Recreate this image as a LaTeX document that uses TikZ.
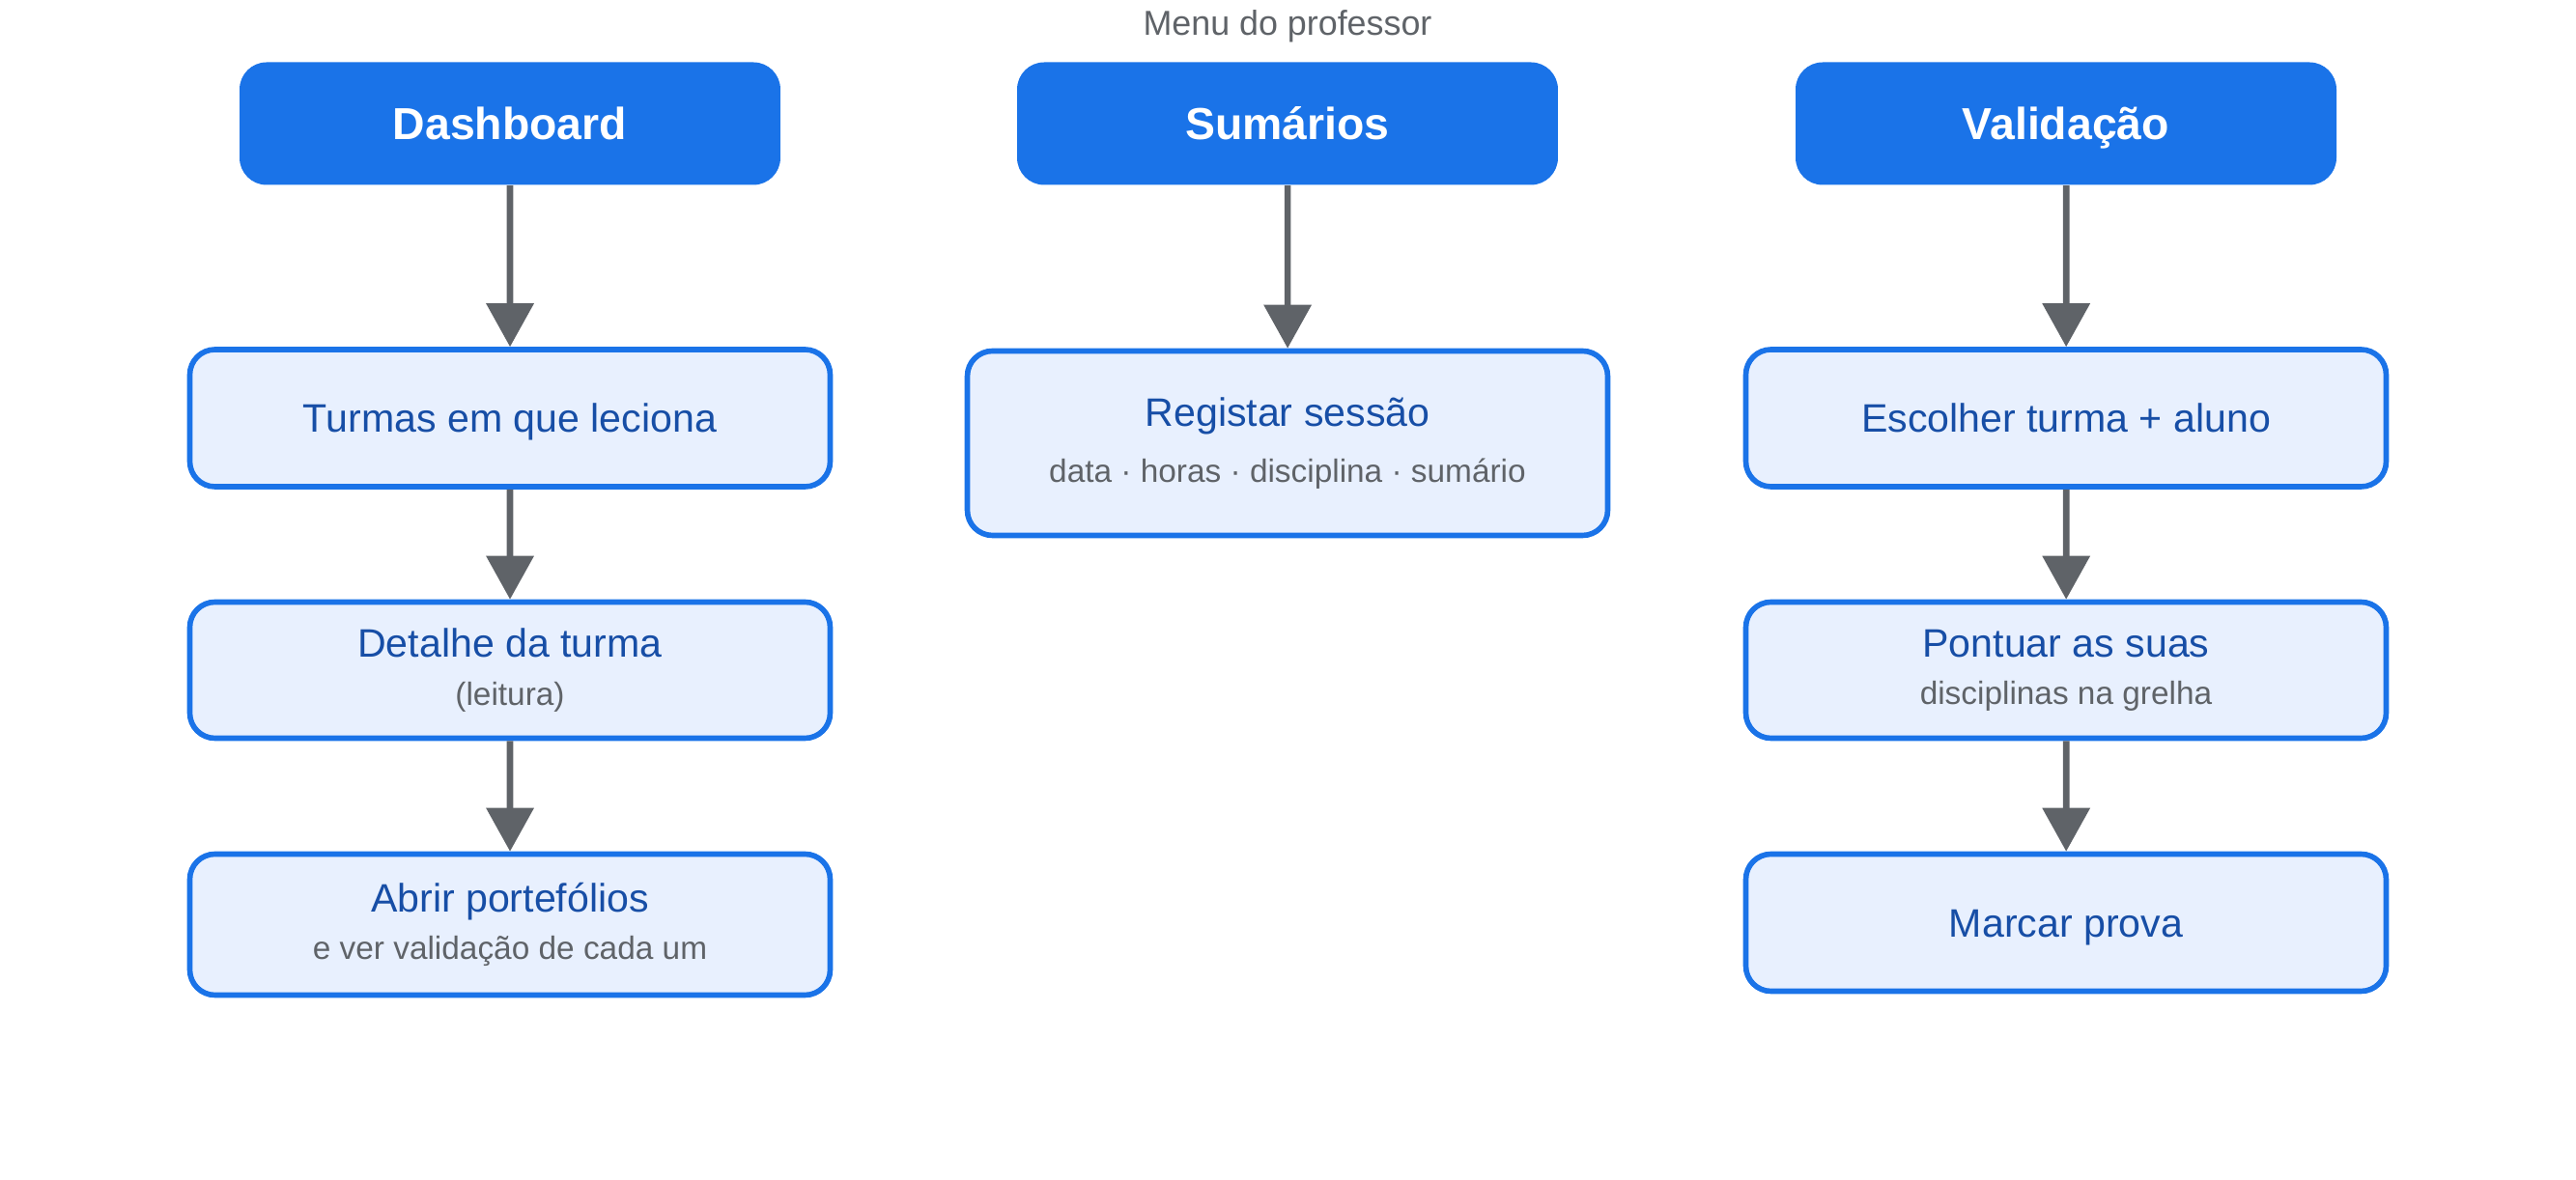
\documentclass[tikz,border=0pt]{standalone}
\usepackage{fontspec}
\setmainfont{Liberation Sans}
\usetikzlibrary{arrows.meta}
\definecolor{menublue}{HTML}{1A73E8}
\definecolor{cardfill}{HTML}{E8F0FE}
\definecolor{cardtext}{HTML}{174EA6}
\definecolor{subgray}{HTML}{5F6368}
\newcommand{\subtxt}[1]{{\color{subgray}\fontsize{9.5}{11}\selectfont #1}}

\begin{document}
\begin{tikzpicture}[scale=0.1]
        \tikzstyle{every node}+=[inner sep=0pt]
        \tikzstyle{head}=[fill=menublue, rounded corners=0.28cm, minimum width=5.6cm, minimum height=1.27cm, text=white, text height=9.45pt, text depth=0pt, font=\bfseries\fontsize{13.2}{16}\selectfont]
        \tikzstyle{card}=[draw=menublue, line width=1.6pt, fill=cardfill, rounded corners=0.26cm, minimum width=6.63cm, minimum height=1.42cm, text=cardtext, align=center, font=\fontsize{11.7}{14}\selectfont]
        \tikzstyle{single}=[text height=8.4pt, text depth=0pt]
        \tikzstyle{link}=[draw=subgray, line width=1.9pt, -{Triangle[length=0.45cm,width=0.48cm]}]
        \useasboundingbox (0,0) rectangle (266.7,-122.2);
        \node[text=subgray, font=\fontsize{10.2}{12}\selectfont] (title) at (133.3,-2.7) {Menu do professor};
        \node[head] (dash) at (52.8,-12.8) {Dashboard};
        \node[head] (sum) at (133.3,-12.8) {Sumários};
        \node[head] (val) at (213.9,-12.8) {Validação};
        \node[card, single] (turmas) at (52.8,-43.3) {Turmas em que leciona};
        \node[card, minimum height=1.41cm] (detalhe) at (52.8,-69.4) {Detalhe da turma\\\subtxt{(leitura)}};
        \node[card, minimum height=1.46cm] (abrir) at (52.8,-95.75) {Abrir portefólios\\\subtxt{e ver validação de cada um}};
        \node[card, minimum height=1.91cm] (registar) at (133.3,-45.9) {Registar sessão\\[2.5pt]\subtxt{data · horas · disciplina · sumário}};
        \node[card, single] (escolher) at (213.9,-43.3) {Escolher turma + aluno};
        \node[card, minimum height=1.41cm] (pontuar) at (213.9,-69.4) {Pontuar as suas\\\subtxt{disciplinas na grelha}};
        \node[card, single] (marcar) at (213.9,-95.55) {Marcar prova};
        \draw[link] (dash) -- (turmas);
        \draw[link] (turmas) -- (detalhe);
        \draw[link] (detalhe) -- (abrir);
        \draw[link] (sum) -- (registar);
        \draw[link] (val) -- (escolher);
        \draw[link] (escolher) -- (pontuar);
        \draw[link] (pontuar) -- (marcar);
        \end{tikzpicture}
\end{document}
